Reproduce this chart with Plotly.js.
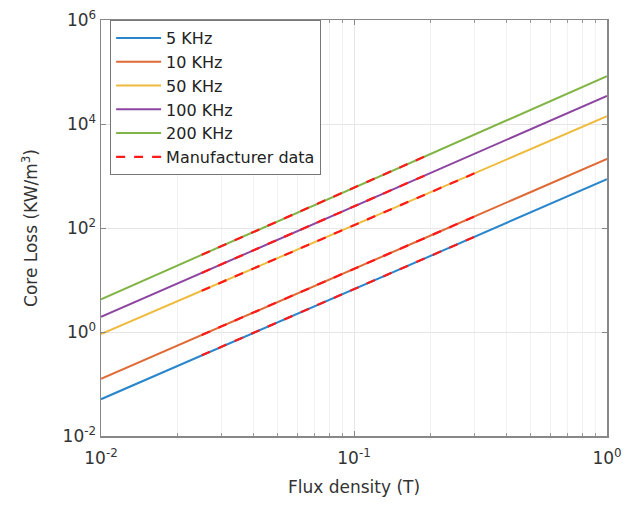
<!DOCTYPE html>
<html>
<head>
<meta charset="utf-8">
<script src="https://cdn.plot.ly/plotly-3.0.1.min.js"></script>
<style>html,body{margin:0;padding:0;background:#fff;}#chart{width:627px;height:505px;}</style>
</head>
<body>
<div id="chart"></div>
<script>
// Flux density (T)
const fluxB = [0.01, 0.02, 0.05, 0.1, 0.2, 0.5, 1];
// Core loss (kW/m^3) per frequency
const loss5k   = [0.051, 0.22, 1.54, 6.7, 29, 201, 870];
const loss10k  = [0.126, 0.55, 3.8, 16.4, 71, 493, 2140];
const loss50k  = [0.91, 3.9, 26.5, 113, 485, 3300, 14100];
const loss100k = [1.95, 8.5, 60, 260, 1135, 7950, 34700];
const loss200k = [4.27, 18.9, 135, 596, 2640, 18800, 83000];

// Manufacturer data
const mfrB_lo = [0.025, 0.05, 0.1, 0.2, 0.3];
const mfr5k   = [0.356, 1.54, 6.7, 29, 68];
const mfr10k  = [0.875, 3.8, 16.4, 71, 167];
const mfr50k  = [6.2, 26.5, 113, 485, 1130];
const mfrB_hi = [0.025, 0.05, 0.1, 0.2];
const mfr100k = [13.7, 60, 260, 1135];
const mfr200k = [30.5, 135, 596, 2640];

const seriesNames = ['5 KHz', '10 KHz', '50 KHz', '100 KHz', '200 KHz'];
const seriesColors = ['#2a86cc', '#e06a35', '#eebb3c', '#8c45a0', '#80b444'];
const seriesVals = [loss5k, loss10k, loss50k, loss100k, loss200k];

const traces = [];
seriesVals.forEach((v, i) => {
  traces.push({x: fluxB, y: v, type: 'scatter', mode: 'lines', name: seriesNames[i],
    line: {color: seriesColors[i], width: 2}});
});
const mfr = [[mfrB_lo, mfr5k], [mfrB_lo, mfr10k], [mfrB_lo, mfr50k], [mfrB_hi, mfr100k], [mfrB_hi, mfr200k]];
mfr.forEach((m, i) => {
  traces.push({x: m[0], y: m[1], type: 'scatter', mode: 'lines', name: 'Manufacturer data',
    showlegend: i === 0, legendgroup: 'mfr',
    line: {color: '#ff1a1a', width: 2.2, dash: 'dash'}});
});

const yTickVals = [0.01, 1, 100, 1e4, 1e6];
const yTickText = ['10<sup>-2</sup>', '10<sup>0</sup>', '10<sup>2</sup>', '10<sup>4</sup>', '10<sup>6</sup>'];
const xTickVals = [0.01, 0.1, 1];
const xTickText = ['10<sup>-2</sup>', '10<sup>-1</sup>', '10<sup>0</sup>'];
const xMinorVals = [0.02, 0.03, 0.04, 0.05, 0.06, 0.07, 0.08, 0.09, 0.2, 0.3, 0.4, 0.5, 0.6, 0.7, 0.8, 0.9];

const fontFam = 'DejaVu Sans, Arial, sans-serif';
const layout = {
  width: 627, height: 505,
  margin: {l: 101, r: 20, t: 20, b: 69},
  paper_bgcolor: '#fff', plot_bgcolor: '#fff',
  font: {family: fontFam, color: '#333', size: 15},
  showlegend: true,
  legend: {x: 0.018, y: 1, xanchor: 'left', yanchor: 'top',
    bordercolor: '#777', borderwidth: 1, bgcolor: '#fff',
    font: {family: fontFam, size: 16, color: '#222'}, itemwidth: 45, tracegroupgap: 0},
  xaxis: {type: 'log', range: [-2, 0], tickvals: xTickVals, ticktext: xTickText,
    showline: true, mirror: 'ticks', linecolor: '#888', linewidth: 1.5,
    ticks: 'inside', ticklen: 5, tickcolor: '#888', ticklabelstandoff: 6,
    showgrid: true, gridcolor: '#e6e6e6', zeroline: false,
    minor: {tickmode: 'array', tickvals: xMinorVals, showgrid: true, gridcolor: '#f2f2f2',
      ticks: 'inside', ticklen: 3, tickcolor: '#999'},
    tickfont: {size: 17, color: '#333'},
    title: {text: 'Flux density (T)', font: {size: 17, color: '#333'}, standoff: 14}},
  yaxis: {type: 'log', range: [-2, 6], tickvals: yTickVals, ticktext: yTickText,
    showline: true, mirror: 'ticks', linecolor: '#888', linewidth: 1.5,
    ticks: 'inside', ticklen: 5, tickcolor: '#888',
    showgrid: true, gridcolor: '#e6e6e6', zeroline: false,
    tickfont: {size: 17, color: '#333'},
    title: {text: 'Core Loss (KW/m<sup>3</sup>)', font: {size: 17, color: '#333'}, standoff: 20}}
};

Plotly.newPlot('chart', traces, layout, {displayModeBar: false, staticPlot: true});
</script>
</body>
</html>
